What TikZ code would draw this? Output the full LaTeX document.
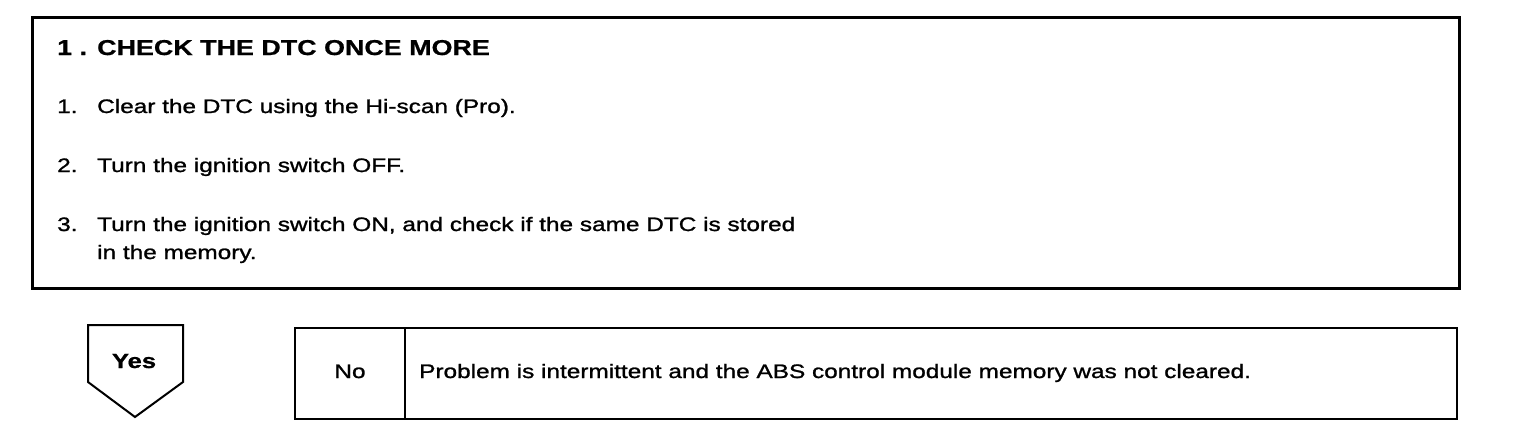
\documentclass[tikz,border=0pt]{standalone}
\usepackage{fontspec}
\newfontfamily\df[FakeStretch=1.25,FakeBold=1.2]{Liberation Sans}
\newfontfamily\dfb[FakeStretch=1.25,FakeBold=0.8]{Liberation Sans Bold}
\begin{document}
\begin{tikzpicture}[x=1pt,y=-1pt,
  txt/.style={anchor=base west,inner sep=0pt,font=\df\fontsize{19.5}{22}\selectfont},
  btxt/.style={txt,font=\dfb\fontsize{21.5}{24}\selectfont},
  frame/.style={draw=black,line width=2.6pt}]
\useasboundingbox (0,0) rectangle (1536,440);
\fill[white] (0,0) rectangle (1536,440);
% top box
\node[frame,rectangle,minimum width=1427pt,minimum height=271pt,anchor=north west,inner sep=0pt] (top) at (31,16) {};
\node[btxt] (hnum) at (57,55) {1 .};
\node[btxt] (head) at (97,55) {CHECK THE DTC ONCE MORE};
\node[txt] (n1) at (57,113) {1.};
\node[txt] (t1) at (97,113) {Clear the DTC using the Hi-scan (Pro).};
\node[txt] (n2) at (57,172) {2.};
\node[txt] (t2) at (97,172) {Turn the ignition switch OFF.};
\node[txt] (n3) at (57,231) {3.};
\node[txt] (t3) at (97,231) {Turn the ignition switch ON, and check if the same DTC is stored};
\node[txt] (t3b) at (97,259) {in the memory.};
% yes arrow
\draw[line width=2pt,line join=miter] (88,325) -- (183,325) -- (183,382) -- (135,417) -- (88,382) -- cycle;
\node[btxt,font=\dfb\fontsize{20.5}{24}\selectfont,anchor=base] (yes) at (134,368) {Yes};
% no box
\node[frame,line width=2.4pt,rectangle,minimum width=1162pt,minimum height=91pt,anchor=north west,inner sep=0pt] (nobox) at (294,327) {};
\coordinate (dtop) at (405,327);
\coordinate (dbot) at (405,418);
\draw[line width=2pt] (dtop) -- (dbot);
\node[txt,anchor=base] (no) at (350,378) {No};
\node[txt] (prob) at (419,378) {Problem is intermittent and the ABS control module memory was not cleared.};
\end{tikzpicture}
\end{document}
